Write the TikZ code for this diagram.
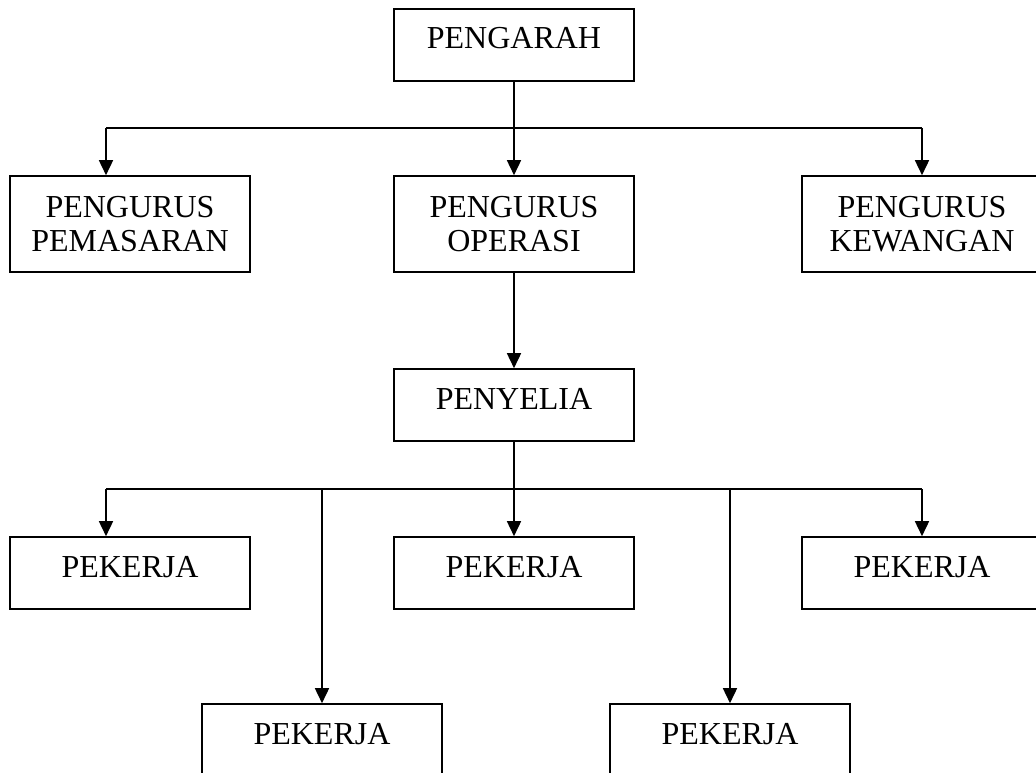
\documentclass[tikz,border=0pt]{standalone}
\usepackage{fontspec}
\setmainfont{Liberation Serif}
\usetikzlibrary{arrows.meta}
\begin{document}
\begin{tikzpicture}[x=1pt,y=-1pt,
  box/.style={draw, line width=1.6pt, minimum width=240pt, inner sep=0pt, align=center,
    font=\fontsize{32}{34}\selectfont},
  onebox/.style={box, text height=40pt, text depth=32pt},
  twobox/.style={box, minimum height=96pt},
  line/.style={line width=1.6pt},
  arr/.style={line width=1.6pt, -{Triangle[length=15pt,width=14pt]}}]
\useasboundingbox (0,0) rectangle (1036,773);
\clip (0,0) rectangle (1036,773);
\node[onebox] (top) at (514,45) {PENGARAH};
\node[twobox] (pem) at (130,224) {PENGURUS\\PEMASARAN};
\node[twobox] (op) at (514,224) {PENGURUS\\OPERASI};
\node[twobox] (kew) at (922,224) {PENGURUS\\KEWANGAN};
\node[onebox] (pen) at (514,405) {PENYELIA};
\node[onebox] (p1) at (130,573) {PEKERJA};
\node[onebox] (p2) at (514,573) {PEKERJA};
\node[onebox] (p3) at (922,573) {PEKERJA};
\node[onebox] (p4) at (322,740) {PEKERJA};
\node[onebox] (p5) at (730,740) {PEKERJA};
% level 1 bus
\coordinate (a0) at (514,128);
\coordinate (aL) at (106,128);
\coordinate (aR) at (922,128);
\draw[line] (aL) -- (aR);
\draw[arr] (top.south) -- (op.north);
\draw[arr] (aL) -- (aL |- pem.north);
\draw[arr] (aR) -- (aR |- kew.north);
\draw[arr] (op.south) -- (pen.north);
% level 2 bus
\coordinate (b0) at (514,489);
\coordinate (bL) at (106,489);
\coordinate (bR) at (922,489);
\coordinate (b4) at (322,489);
\coordinate (b5) at (730,489);
\draw[line] (bL) -- (bR);
\draw[arr] (pen.south) -- (p2.north);
\draw[arr] (bL) -- (bL |- p1.north);
\draw[arr] (bR) -- (bR |- p3.north);
\draw[arr] (b4) -- (p4.north);
\draw[arr] (b5) -- (p5.north);
\end{tikzpicture}
\end{document}
